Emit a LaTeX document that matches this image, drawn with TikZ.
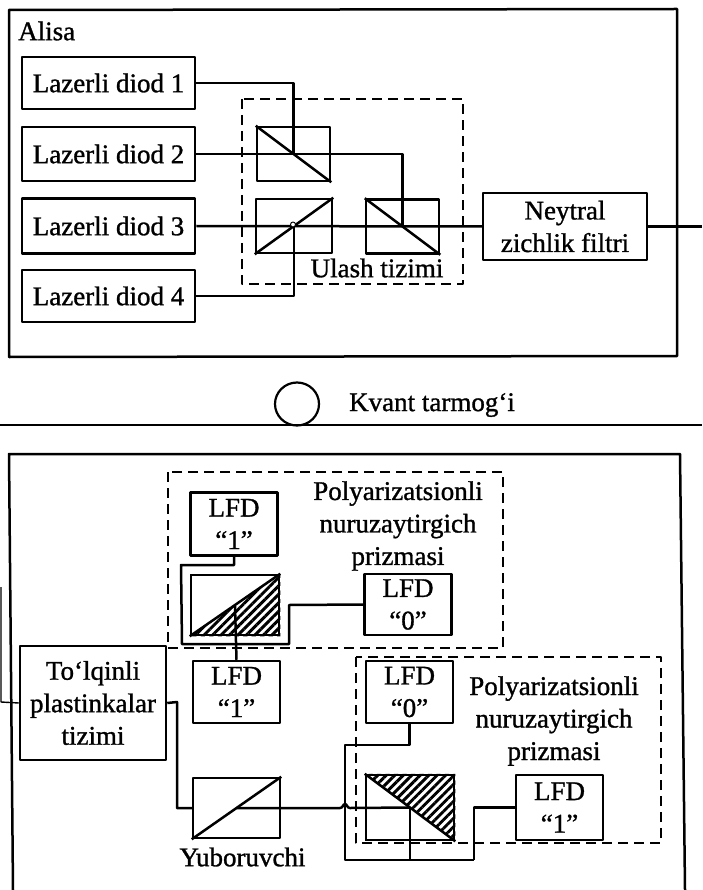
\documentclass[tikz,border=0pt]{standalone}
\usepackage{fontspec}
\setmainfont{Liberation Serif}[RawFeature={embolden=1.1}]
\usetikzlibrary{patterns.meta,shapes.geometric}
\tikzset{
  x=1pt,y=-1pt,
  every node/.style={font=\fontsize{27}{32.5}\selectfont,align=center,inner sep=0pt},
  ln/.style={line width=2.5pt,line join=round},
  box/.style={draw,line width=2.5pt,rectangle,line join=round},
  dashbox/.style={line width=2.5pt,dash pattern=on 10pt off 6pt,line join=round},
  hatch/.style={pattern={Lines[angle=45,distance=6pt,line width=2.9pt]},draw=none},
  ld/.style={box,minimum width=173pt,minimum height=#1},
  lfd/.style={box,minimum width=87pt,minimum height=63pt},
  split/.style={box,minimum width=73pt,minimum height=54pt},
  prism/.style={box,minimum width=88pt,minimum height=62pt},
}
\begin{document}
\begin{tikzpicture}
\useasboundingbox (0,0) rectangle (702,890);
% enclosures
\draw[ln] (9,357) -- (9,10) -- (677,9) -- (677,356) -- cycle;
\draw[ln] (13,890) -- (9,454) -- (680,454) -- (685,890);
\coordinate (netL) at (0,425);
\coordinate (netR) at (702,425);
\draw[ln] (netL) -- (netR);
\node[draw,ellipse,line width=2.2pt,minimum width=44pt,minimum height=43pt] (ring) at (297,404) {};
\node (kvant) at (432,405) {Kvant tarmog‘i};
\node[anchor=west] (alisa) at (18,31) {Alisa};
% Alisa blocks
\node[ld=52pt] (d1) at (108.5,83) {Lazerli diod 1};
\node[ld=54pt] (d2) at (108.5,154) {Lazerli diod 2};
\node[ld=55pt] (d3) at (108.5,226) {Lazerli diod 3};
\node[ld=52pt] (d4) at (108.5,296) {Lazerli diod 4};
\draw[dashbox] (242,99) rectangle (463,284);
\node (ulash) at (377,268) {Ulash tizimi};
\node[split] (sa) at (293.5,154) {};
\node[split,minimum width=76pt] (sb) at (294,226) {};
\node[split] (sc) at (402.5,226.5) {};
\draw[ln] (sa.north west) -- (sa.south east);
\draw[ln] (sb.south west) -- (sb.north east);
\draw[ln] (sc.north west) -- (sc.south east);
\node[box,minimum width=164pt,minimum height=67pt] (nd) at (565,226.5) {Neytral\\zichlik filtri};
\draw[ln] (d1.east) -| (sa.center);
\draw[ln] (d2.east) -| (sc.center);
\draw[ln] (d3.east) -- (nd.west);
\draw[ln] (d4.east) -| (sb.center);
\node[circle,draw,fill=white,line width=0.9pt,minimum size=5pt] (sbj) at (293,224.5) {};
\coordinate (fiberout) at (702,226.5);
\draw[ln] (nd.east) -- (fiberout);
% Bob upper group
\draw[dashbox] (168,472) rectangle (503,648);
\node (pol1) at (398,526) {Polyarizatsionli\\nuruzaytirgich\\prizmasi};
\node[lfd] (t1) at (234,524) {LFD\\“1”};
\node[lfd,minimum height=61pt] (t0) at (408,604.5) {LFD\\“0”};
\node[prism,minimum height=60pt] (p1) at (235,605) {};
\fill[hatch] (p1.south west) -- (p1.north east) -- (p1.south east) -- cycle;
\draw[ln] (p1.south west) -- (p1.north east);
\node[draw,line width=2.5pt,minimum width=88pt,minimum height=60pt] at (p1.center) {};
\node[lfd,minimum height=62pt] (m1) at (236.5,692) {LFD\\“1”};
\coordinate (p1c) at (235,606);
\draw[ln] (m1.north) -- (p1c);
\coordinate (ua) at (181,565);
\coordinate (ub) at (182,644);
\coordinate (uc) at (289,644);
\coordinate (ud) at (289,605);
\draw[ln] (t1.south) |- (ua) -- (ub) -- (uc) -- (ud) -- (t0.west);
% Bob lower group
\draw[dashbox] (356,657) rectangle (661,843);
\node (pol2) at (554,721) {Polyarizatsionli\\nuruzaytirgich\\prizmasi};
\node[box,minimum width=146pt,minimum height=114pt] (wp) at (93,703) {To‘lqinli\\plastinkalar\\tizimi};
\node[box,minimum width=87pt,minimum height=60pt] (yu) at (236.5,808) {};
\draw[ln] (yu.south west) -- (yu.north east);
\node (yut) at (242.5,857) {Yuboruvchi};
\node[lfd,minimum height=62pt] (b0) at (409.5,692) {LFD\\“0”};
\node[prism,minimum height=65pt] (p2) at (410,807.5) {};
\fill[hatch] (p2.north west) -- (p2.north east) -- (p2.south east) -- cycle;
\draw[ln] (p2.north west) -- (p2.south east);
\node[draw,line width=2.5pt,minimum width=88pt,minimum height=65pt] at (p2.center) {};
\node[lfd,minimum height=65pt] (b1) at (559.5,807.5) {LFD\\“1”};
% Bob connectors
\coordinate (inA) at (1,587);
\coordinate (inB) at (1,702);
\draw[line width=1.4pt,line join=round] (inA) -- (inB) -- (wp.west);
\coordinate (wa) at (177,702);
\coordinate (wb) at (177,808);
\draw[ln] (wp.east) -- (wa) -- (wb) -- (yu.west);
\draw[ln] (yu.center) -- (340,808) .. controls (343,808) and (343,804) .. (345,804) .. controls (347,804) and (347,808) .. (350,808) -- (p2.center);
\coordinate (la) at (345,745);
\coordinate (lb) at (345,860);
\coordinate (lc) at (474,860);
\draw[ln] (b0.south) |- (la) -- (lb) -- (lc);
\draw[ln] (b1.west) -| (lc);
\coordinate (ld) at (410,860);
\draw[ln] (p2.center) -- (ld);
\end{tikzpicture}
\end{document}
